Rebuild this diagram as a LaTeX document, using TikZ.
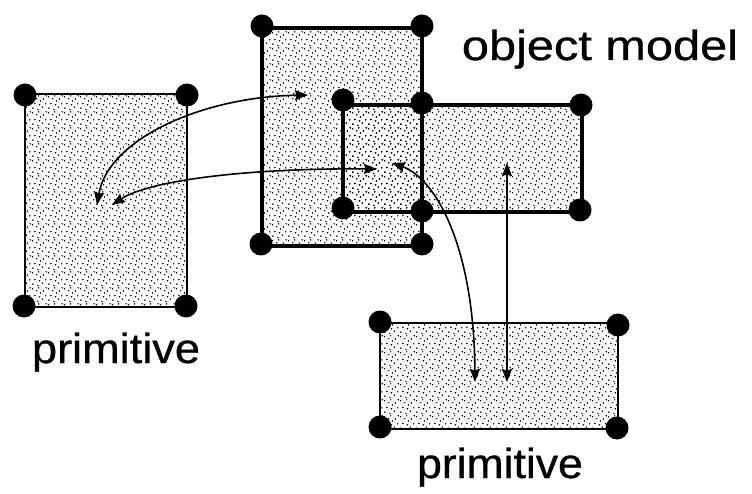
\documentclass[tikz,border=0pt]{standalone}
\usepackage{fontspec}
\usepackage{graphicx}
\setmainfont{Liberation Sans}
\newfontfamily\labelfont{Liberation Sans}[FakeBold=0.7]
\usetikzlibrary{patterns.meta,arrows.meta}

% irregular stipple used for the shaded areas
\tikzdeclarepattern{
  name=stipple,
  type=uncolored,
  bounding box={(0pt,0pt) and (16pt,16pt)},
  tile size={(16pt,16pt)},
  code={
    \foreach \p in {(1pt,2pt),(6pt,0.5pt),(11pt,3pt),(14.5pt,6.5pt),(3pt,7pt),(8pt,5.5pt),
                    (12pt,11.5pt),(5pt,12pt),(0.5pt,14pt),(9pt,9.5pt),(15pt,15pt),(7pt,15pt)}
      \fill \p circle (0.9pt);
  }
}

\tikzset{
  shade/.style={pattern={stipple}, pattern color=black},
  thinedge/.style={line width=2.3pt, line join=miter},
  thickedge/.style={line width=4.5pt, line cap=round, line join=round},
  corner/.style={circle, fill=black, inner sep=0pt, minimum size=23pt},
  link/.style={line width=1.6pt,
    {Stealth[length=13pt,width=10pt,inset=1.5pt]}-{Stealth[length=13pt,width=10pt,inset=1.5pt]}},
  label/.style={anchor=base, inner sep=0pt, font=\labelfont\fontsize{42}{48}\selectfont},
}

\begin{document}
\begin{tikzpicture}[x=1pt,y=-1pt]
  \useasboundingbox (0,0) rectangle (752,494);

  % left primitive
  \fill[shade] (25,94) rectangle (187,307);
  \draw[thinedge] (25,94) rectangle (187,307);

  % bottom primitive
  \fill[shade] (380,323) rectangle (618,429);
  \draw[thinedge] (380,323) rectangle (618,429);

  % object model: tall part and the wide part overlapping it
  \fill[shade] (262,28) rectangle (422,246);
  \fill[shade] (343,105) rectangle (582,212);
  \draw[thickedge] (262,28) rectangle (422,246);
  \draw[thickedge] (343,105) rectangle (582,212);

  % corner handles
  \node[corner] (l1) at (25,95) {};
  \node[corner] (l2) at (187,95) {};
  \node[corner] (l3) at (24,306) {};
  \node[corner] (l4) at (186,306) {};

  \node[corner] (b1) at (380,322) {};
  \node[corner] (b2) at (618,325) {};
  \node[corner] (b3) at (380,427) {};
  \node[corner] (b4) at (617,428) {};

  \node[corner] (o1) at (262,26) {};
  \node[corner] (o2) at (422,26) {};
  \node[corner] (o3) at (261,244) {};
  \node[corner] (o4) at (422,244) {};
  \node[corner] (o5) at (343,100) {};
  \node[corner] (o6) at (422,103) {};
  \node[corner] (o7) at (343,208) {};
  \node[corner] (o8) at (422,211) {};
  \node[corner] (o9) at (581,105) {};
  \node[corner] (o10) at (580,210) {};

  % arrow end points
  \coordinate (pa) at (97,205);
  \coordinate (pb) at (112,205);
  \coordinate (ma) at (308,95);
  \coordinate (mb) at (377,169);
  \coordinate (mc) at (392,163);
  \coordinate (md) at (507,163);
  \coordinate (qa) at (475,382);
  \coordinate (qb) at (507,382);

  % correspondences
  \draw[link] (pa) .. controls (108,140) and (200,97) .. (ma);
  \draw[link] (pb) .. controls (150,180) and (250,168) .. (mb);
  \draw[link] (mc) .. controls (435,178) and (474,245) .. (qa);
  \draw[link] (md) -- (qb);

  % labels
  \node[label] (t1) at (600,60) {\scalebox{1.16}[1]{object model}};
  \node[label] (t2) at (116,363) {\scalebox{1.075}[1]{primitive}};
  \node[label] (t3) at (500,478) {\scalebox{1.06}[1]{primitive}};
\end{tikzpicture}
\end{document}
